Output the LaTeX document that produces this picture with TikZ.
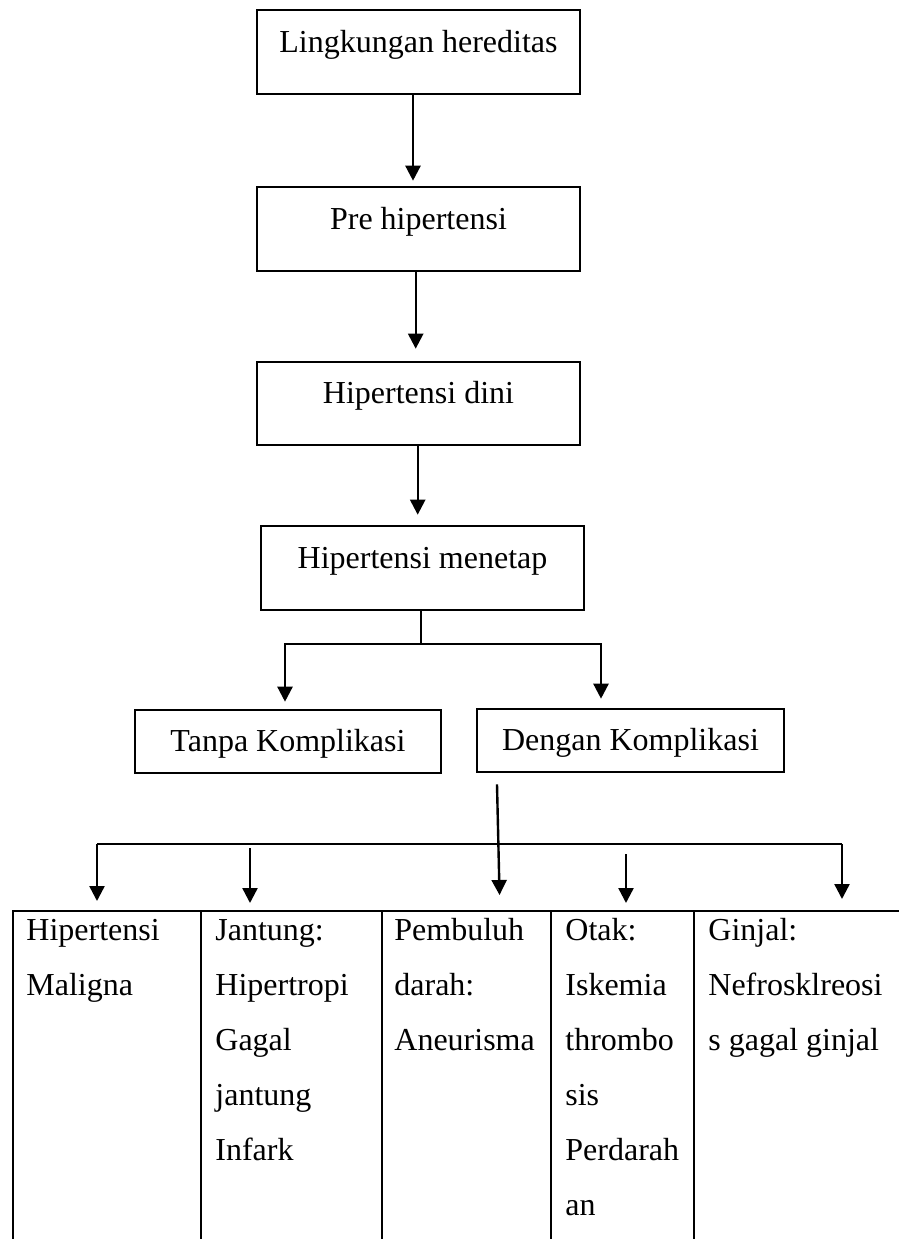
\documentclass[tikz,border=0pt]{standalone}
\usepackage{fontspec}
\setmainfont{Liberation Serif}
\usetikzlibrary{arrows.meta}
\tikzset{
  box/.style={draw, line width=1.3pt, inner sep=0pt, anchor=base,
    font=\fontsize{16}{19}\selectfont},
  bigbox/.style={box, minimum width=161.5pt, text height=21pt, text depth=21pt},
  smallbox/.style={box, minimum width=153pt, text height=20.5pt, text depth=11pt},
  arr/.style={line width=1.2pt, -{Triangle[width=7.5pt,length=7.5pt]}},
  bar/.style={line width=1.2pt},
  cell/.style={draw, line width=0.9pt, anchor=north west, inner sep=0pt, minimum height=175pt},
  celltext/.style={anchor=base west, inner sep=0pt, font=\fontsize{16}{27.5}\selectfont}
}
\begin{document}
\begin{tikzpicture}[x=0.5pt,y=-0.5pt]
\useasboundingbox (0,0) rectangle (899,1239);
\clip (0,0) rectangle (899,1239);

% chain of boxes
\node[bigbox] (b1) at (418.5,52) {Lingkungan hereditas};
\node[bigbox] (b2) at (418.5,229) {Pre hipertensi};
\node[bigbox, text height=20.5pt] (b3) at (418.5,403) {Hipertensi dini};
\node[bigbox] (b4) at (422.5,568) {Hipertensi menetap};
\node[smallbox] (tanpa) at (288,751) {Tanpa Komplikasi};
\node[smallbox, minimum width=153.5pt] (dengan) at (630.5,750) {Dengan Komplikasi};

\draw[arr, shorten >=2.5pt] ([xshift=-2.75pt]b1.south) -- ([xshift=-2.75pt]b1.south |- b2.north);
\draw[arr, shorten >=6pt] ([xshift=-1.4pt]b2.south) -- ([xshift=-1.4pt]b2.south |- b3.north);
\draw[arr, shorten >=5pt] ([xshift=-0.4pt]b3.south) -- ([xshift=-0.4pt]b3.south |- b4.north);

% split below Hipertensi menetap
\coordinate (j1) at (421,644);
\draw[bar] (b4.south -| j1) -- (j1);
\draw[arr, shorten >=3.5pt] (j1) -| ([xshift=-1.5pt]tanpa.north);
\draw[arr, shorten >=4.5pt] (j1) -| ([xshift=-14.75pt]dengan.north);

% table cells
\node[cell, minimum width=94pt] (c1) at (12,910) {};
\node[cell, minimum width=90.5pt] (c2) at (200,910) {};
\node[cell, minimum width=84.5pt] (c3) at (381,910) {};
\node[cell, minimum width=71.5pt] (c4) at (550,910) {};
\node[cell, minimum width=113.5pt] (c5) at (693,910) {};

\node[celltext] (t1) at (26,940) {\parbox[t]{90pt}{Hipertensi\\Maligna}};
\node[celltext] (t2) at (215,940) {\parbox[t]{90pt}{Jantung:\\Hipertropi\\Gagal\\jantung\\Infark}};
\node[celltext] (t3) at (394,940) {\parbox[t]{90pt}{Pembuluh\\darah:\\Aneurisma}};
\node[celltext] (t4) at (565,940) {\parbox[t]{90pt}{Otak:\\Iskemia\\thrombo\\sis\\Perdarah\\an}};
\node[celltext] (t5) at (708,940) {\parbox[t]{100pt}{Ginjal:\\Nefrosklreosi\\s gagal ginjal}};

% lower distribution
\coordinate (h1) at (97,844);
\coordinate (h2) at (842,844);
\coordinate (a2) at (250,848);
\coordinate (a4) at (626,854);
\draw[bar] (h1) -- (h2);
\draw[arr, shorten >=7.5pt] ([xshift=-66.75pt,yshift=-5.5pt]dengan.south) -- ([xshift=16.75pt]c3.north);
\draw[arr, shorten >=4.5pt] (h1) -- (h1 |- c1.north);
\draw[arr, shorten >=3.5pt] (a2) -- (a2 |- c2.north);
\draw[arr, shorten >=3.5pt] (a4) -- (a4 |- c4.north);
\draw[arr, shorten >=5.5pt] (h2) -- (h2 |- c5.north);
\end{tikzpicture}
\end{document}
